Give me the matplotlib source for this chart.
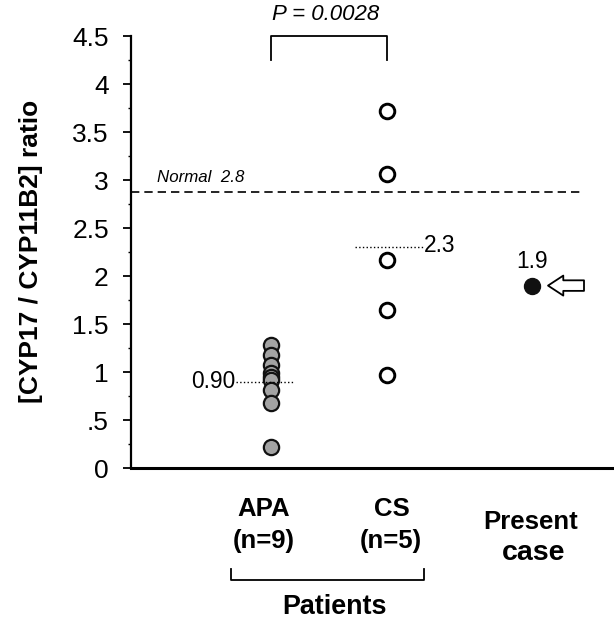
import matplotlib
matplotlib.use("Agg")
import matplotlib.pyplot as plt

plt.rcParams["font.family"] = ["Liberation Sans", "DejaVu Sans"]

# values
apa_values = [1.28, 1.18, 1.07, 0.99, 0.95, 0.92, 0.81, 0.68, 0.22]
cs_values = [3.72, 3.06, 2.17, 1.65, 0.97]
present_value = 1.9
apa_mean = 0.90
cs_mean = 2.3
normal_value = 2.88

y_ticks = [0, 0.5, 1, 1.5, 2, 2.5, 3, 3.5, 4, 4.5]
y_ticklabels = ["0", ".5", "1", "1.5", "2", "2.5", "3", "3.5", "4", "4.5"]

# x positions of the three groups (arbitrary units)
X_APA, X_CS, X_PRES = 1.40, 2.56, 4.01

W, H = 614, 621


def fx(px):
    return px / W


def fy(py):
    return 1 - py / H


fig = plt.figure(figsize=(W / 100, H / 100), dpi=100)
ax = fig.add_axes([131 / W, 153 / H, 483 / W, 432 / H])
ax.set_xlim(0, 4.83)
ax.set_ylim(0, 4.5)

for s in ["top", "right"]:
    ax.spines[s].set_visible(False)
ax.spines["left"].set_linewidth(1.6)
ax.spines["bottom"].set_linewidth(2.2)
ax.set_xticks([])
ax.set_yticks(y_ticks)
ax.set_yticklabels(y_ticklabels, fontsize=19)
ax.set_yticks([v + 0.25 for v in y_ticks[:-1]], minor=True)
ax.tick_params(axis="y", which="major", length=6, width=1.3, pad=10)
ax.tick_params(axis="y", which="minor", length=2.5, width=1.0)

fig.text(fx(31), fy(251), "[CYP17 / CYP11B2] ratio", rotation=90, fontsize=19,
         fontweight="bold", ha="center", va="center")

# normal reference line
ax.plot([0, 4.52], [normal_value, normal_value], ls=(0, (5, 3)), color="black", lw=1.2)
fig.text(fx(157), fy(178), "Normal  2.8", fontsize=12.2, style="italic", va="center")

# data points
ax.plot([X_APA] * len(apa_values), apa_values, "o", ms=11, mfc="#a3a3a3",
        mec="#111111", mew=1.6, clip_on=False)
ax.plot([X_CS] * len(cs_values), cs_values, "o", ms=10.5, mfc="white",
        mec="black", mew=2.1)
ax.plot([X_PRES], [present_value], "o", ms=11.5, mfc="#111111", mec="#111111")

# mean lines
ax.plot([1.05, 1.62], [apa_mean, apa_mean], ls=":", color="black", lw=1.0)
ax.text(1.04, apa_mean, "0.90", fontsize=16.4, ha="right", va="center")
ax.plot([2.24, 2.92], [cs_mean, cs_mean], ls=":", color="black", lw=1.0)
ax.text(2.93, cs_mean + 0.02, "2.3", fontsize=16.4, ha="left", va="center")
fig.text(fx(532), fy(262), "1.9", fontsize=16.4, ha="center", va="center")

# arrow pointing at present case
ax.annotate("", xy=(4.17, present_value), xytext=(4.53, present_value),
            arrowprops=dict(arrowstyle="simple,head_length=0.55,head_width=0.72,tail_width=0.38",
                            fc="white", ec="black", lw=1.3, shrinkA=0, shrinkB=0,
                            mutation_scale=20))

# significance bracket
ax.plot([X_APA, X_APA, X_CS, X_CS], [4.25, 4.5, 4.5, 4.25], color="black", lw=1.3,
        clip_on=False)
fig.text(fx(326), fy(15), "P = 0.0028", fontsize=16, style="italic",
         ha="center", va="center")

# group labels below the axis
bold = dict(fontweight="bold", ha="center", va="center")
fig.text(fx(264), fy(509), "APA", fontsize=18.5, **bold)
fig.text(fx(264), fy(541), "(n=9)", fontsize=18.5, **bold)
fig.text(fx(392), fy(509), "CS", fontsize=18.5, **bold)
fig.text(fx(391), fy(541), "(n=5)", fontsize=18.5, **bold)
fig.text(fx(531), fy(522), "Present", fontsize=18.5, **bold)
fig.text(fx(534), fy(553), "case", fontsize=20.5, **bold)
ax.plot([1.0, 1.0, 2.93, 2.93], [-0.234, -0.259, -0.259, -0.234],
        transform=ax.get_xaxis_transform(), color="black", lw=1.3, clip_on=False)
fig.text(fx(334), fy(607), "Patients", fontsize=19.4, **bold)

fig.savefig("out.png", dpi=100)
